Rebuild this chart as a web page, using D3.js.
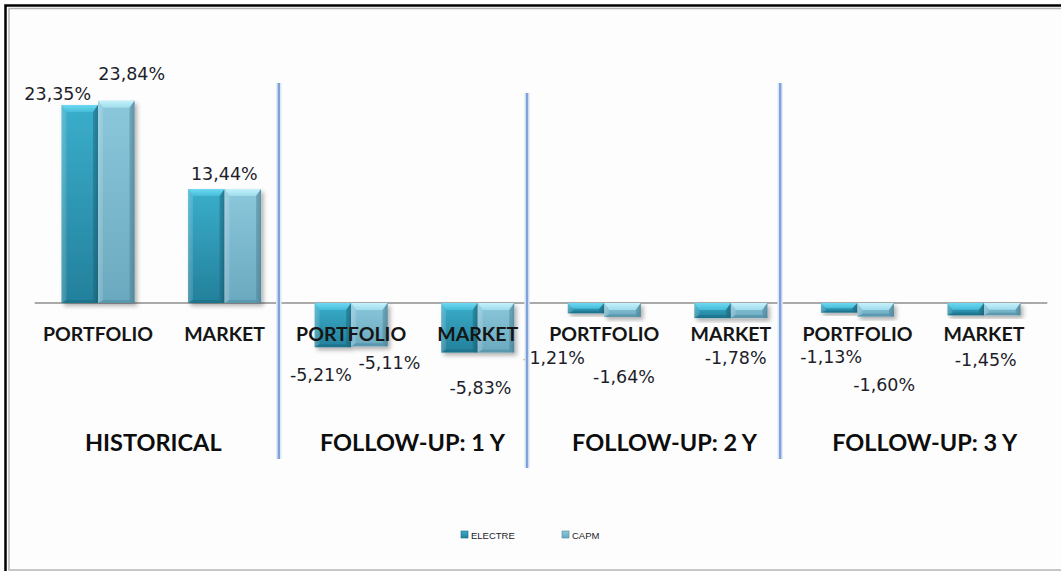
<!DOCTYPE html>
<html>
<head>
<meta charset="utf-8">
<script src="https://cdn.jsdelivr.net/npm/d3@7/dist/d3.min.js"></script>
<style>
  html, body { margin: 0; padding: 0; background: #ffffff; }
  svg { display: block; }
</style>
</head>
<body>
<div id="chart"></div>
<script>
// ---- data ----
const groups = ["HISTORICAL", "FOLLOW-UP: 1 Y", "FOLLOW-UP: 2 Y", "FOLLOW-UP: 3 Y"];
const subCategories = ["PORTFOLIO", "MARKET"];
const seriesNames = ["ELECTRE", "CAPM"];
const electreValues = [23.35, 13.44, -5.21, -5.83, -1.21, -1.78, -1.13, -1.45];
const capmValues    = [23.84, 13.44, -5.11, -5.83, -1.64, -1.78, -1.60, -1.45];

// ---- layout ----
const W = 1061, H = 571;
const labelNudge = {
  ELECTRE: [[-22, -5], [18, -9], [-12, 34], [21, 42], [-32, 51], [23, 46], [-8, 50], [20, 51]],
  CAPM:    [[15.5, -21], [-18.5, -9], [20, 23], [-16.5, 42], [1.5, 66], [-13.5, 46], [8.5, 74], [-16.5, 51]]
};
const groupLabelNudge = [-8, -2, -3, 4];
const separators = [
  { afterGroup: 0, dx: -9, top: 83, bottom: 459 },
  { afterGroup: 1, dx: -14, top: 93, bottom: 468 },
  { afterGroup: 2, dx: -14, top: 83, bottom: 459 }
];

const categories = [];
groups.forEach(g => subCategories.forEach(s => categories.push(g + "|" + s)));
const rows = categories.map((c, i) => ({
  key: c, group: c.split("|")[0], sub: c.split("|")[1],
  ELECTRE: electreValues[i], CAPM: capmValues[i]
}));

const fmtLocale = d3.formatLocale({ decimal: ",", thousands: ".", grouping: [3], currency: ["", "%"], minus: "-" });
const fmt = v => fmtLocale.format(".2f")(v) + "%";

const svg = d3.select("#chart").append("svg").attr("width", W).attr("height", H);
const defs = svg.append("defs");

// bar shading
const palette = {
  ELECTRE: { top: "#3aaecb", bottom: "#23809b", cap: "#6fd9f2", capEdge: "#45bcd9", edgeDark: "#1a6a82" },
  CAPM:    { top: "#8cc8dc", bottom: "#6aa9bf", cap: "#c4f1fb", capEdge: "#9fdcec", edgeDark: "#4f8aa0" }
};
seriesNames.forEach(s => {
  const p = palette[s];
  const g = defs.append("linearGradient").attr("id", "body-" + s).attr("x1", 0).attr("y1", 0).attr("x2", 0).attr("y2", 1);
  g.append("stop").attr("offset", "0%").attr("stop-color", p.top);
  g.append("stop").attr("offset", "100%").attr("stop-color", p.bottom);
  const h = defs.append("linearGradient").attr("id", "side-" + s).attr("x1", 0).attr("y1", 0).attr("x2", 1).attr("y2", 0);
  h.append("stop").attr("offset", "0%").attr("stop-color", "#ffffff").attr("stop-opacity", 0.12);
  h.append("stop").attr("offset", "12%").attr("stop-color", "#ffffff").attr("stop-opacity", 0.0);
  h.append("stop").attr("offset", "85%").attr("stop-color", "#000000").attr("stop-opacity", 0.0);
  h.append("stop").attr("offset", "100%").attr("stop-color", "#000000").attr("stop-opacity", 0.22);
  const c = defs.append("linearGradient").attr("id", "cap-" + s).attr("x1", 0).attr("y1", 0).attr("x2", 0).attr("y2", 1);
  c.append("stop").attr("offset", "0%").attr("stop-color", p.cap);
  c.append("stop").attr("offset", "100%").attr("stop-color", p.capEdge);
});
const shadow = defs.append("filter").attr("id", "shadow").attr("x", "-20%").attr("y", "-20%").attr("width", "150%").attr("height", "150%");
shadow.append("feDropShadow").attr("dx", 2.5).attr("dy", 3).attr("stdDeviation", 2).attr("flood-color", "#000").attr("flood-opacity", 0.3);

// frame
svg.append("rect").attr("x", 0).attr("y", 0).attr("width", W).attr("height", H).attr("fill", "#fdfdfd");
svg.append("rect").attr("x", 9).attr("y", 8.5).attr("width", W + 10).attr("height", 561.5)
  .attr("fill", "none").attr("stroke", "#b4b4b4").attr("stroke-width", 1.5);
svg.append("path").attr("d", `M5.5,${H} V5.5 H${W}`).attr("fill", "none").attr("stroke", "#000").attr("stroke-width", 2.5);

// scales
const x0 = d3.scaleBand().domain(categories).range([34.7, 1047.3]).paddingInner(0.4232).paddingOuter(0.2116);
const x1 = d3.scaleBand().domain(seriesNames).range([0, x0.bandwidth()]);
const y = d3.scaleLinear().domain([0, 25]).range([303, 303 - 25 * 8.48]);

// zero line
svg.append("line").attr("x1", x0.range()[0]).attr("x2", x0.range()[1])
  .attr("y1", y(0)).attr("y2", y(0)).attr("stroke", "#8e8e8e").attr("stroke-width", 1.6);

// bars
const bars = [];
rows.forEach((r, i) => seriesNames.forEach(s => bars.push({ key: r.key, series: s, value: r[s], idx: i })));

const barG = svg.append("g").selectAll("g").data(bars).join("g")
  .attr("transform", d => `translate(${x0(d.key) + x1(d.series)},0)`);

barG.each(function (d) {
  const g = d3.select(this);
  const w = x1.bandwidth();
  const top = Math.min(y(d.value), y(0));
  const h = Math.abs(y(d.value) - y(0));
  const p = palette[d.series];
  const body = g.append("g").attr("filter", "url(#shadow)");
  body.append("rect").attr("x", 0).attr("y", top).attr("width", w).attr("height", h)
    .attr("fill", `url(#body-${d.series})`);
  body.append("rect").attr("x", 0).attr("y", top).attr("width", w).attr("height", h)
    .attr("fill", `url(#side-${d.series})`);
  // bevelled cap
  const ch = Math.min(7, h * 0.55);
  const inset = Math.min(5, ch);
  g.append("path")
    .attr("d", `M0,${top} H${w} L${w - inset},${top + ch} H${inset} Z`)
    .attr("fill", `url(#cap-${d.series})`);
  // left and right bevel edges
  g.append("path")
    .attr("d", `M0,${top} L${inset},${top + ch} V${top + h - Math.min(3, h * 0.2)} L0,${top + h} Z`)
    .attr("fill", "#ffffff").attr("fill-opacity", 0.12);
  g.append("path")
    .attr("d", `M${w},${top} L${w - inset},${top + ch} V${top + h - Math.min(3, h * 0.2)} L${w},${top + h} Z`)
    .attr("fill", p.edgeDark).attr("fill-opacity", 0.45);
  // bottom edge
  const bh = Math.min(3, h * 0.2);
  g.append("path")
    .attr("d", `M0,${top + h} H${w} L${w - inset},${top + h - bh} H${inset} Z`)
    .attr("fill", p.edgeDark).attr("fill-opacity", 0.55);
});

// category labels
svg.append("g").selectAll("text").data(rows).join("text")
  .attr("x", d => x0(d.key) + x0.bandwidth() / 2)
  .attr("y", 341)
  .attr("text-anchor", "middle")
  .attr("font-family", "Lato, 'Liberation Sans', sans-serif")
  .attr("font-weight", 700)
  .attr("font-size", 19.5)
  .attr("fill", "#151515")
  .text(d => d.sub);

// value labels (a pair with equal values shares a single label)
const labelled = bars.filter(d => !(d.series !== seriesNames[0] && d.value === rows[d.idx][seriesNames[0]]));
svg.append("g").selectAll("text").data(labelled).join("text")
  .attr("x", d => x0(d.key) + x1(d.series) + x1.bandwidth() / 2 + labelNudge[d.series][d.idx][0])
  .attr("y", d => y(d.value) + labelNudge[d.series][d.idx][1])
  .attr("text-anchor", "middle")
  .attr("font-family", "'DejaVu Sans', sans-serif")
  .attr("font-size", 17.5)
  .attr("fill", "#1e1e2a")
  .text(d => fmt(d.value));

// separators between periods
separators.forEach(sp => {
  const lastKey = groups[sp.afterGroup] + "|" + subCategories[subCategories.length - 1];
  const nextKey = groups[sp.afterGroup + 1] + "|" + subCategories[0];
  const mid = (x0(lastKey) + x0.bandwidth() + x0(nextKey)) / 2 + sp.dx;
  svg.append("line").attr("x1", mid).attr("x2", mid).attr("y1", sp.top).attr("y2", sp.bottom)
    .attr("stroke", "#e2eaf7").attr("stroke-width", 5.5);
  svg.append("line").attr("x1", mid).attr("x2", mid).attr("y1", sp.top).attr("y2", sp.bottom)
    .attr("stroke", "#7fa2d8").attr("stroke-width", 2.4);
});

// period labels
svg.append("g").selectAll("text").data(groups).join("text")
  .attr("x", (g, i) => {
    const a = x0(g + "|" + subCategories[0]) + x0.bandwidth() / 2;
    const b = x0(g + "|" + subCategories[1]) + x0.bandwidth() / 2;
    return (a + b) / 2 + groupLabelNudge[i];
  })
  .attr("y", 451)
  .attr("text-anchor", "middle")
  .attr("font-family", "Lato, 'Liberation Sans', sans-serif")
  .attr("font-weight", 700)
  .attr("font-size", 23.5)
  .attr("fill", "#0d0d0d")
  .text(g => g);

// legend
const legendX = [461, 562];
const legend = svg.append("g").selectAll("g").data(seriesNames).join("g")
  .attr("transform", (s, i) => `translate(${legendX[i]},531)`);
legend.append("rect").attr("width", 7).attr("height", 7).attr("fill", s => `url(#body-${s})`)
  .attr("stroke", s => palette[s].edgeDark).attr("stroke-width", 0.6);
legend.append("text").attr("x", 10).attr("y", 7.5)
  .attr("font-family", "'Liberation Sans', sans-serif")
  .attr("font-size", 9.5)
  .attr("fill", "#1c1c2a")
  .text(s => s);
</script>
</body>
</html>
